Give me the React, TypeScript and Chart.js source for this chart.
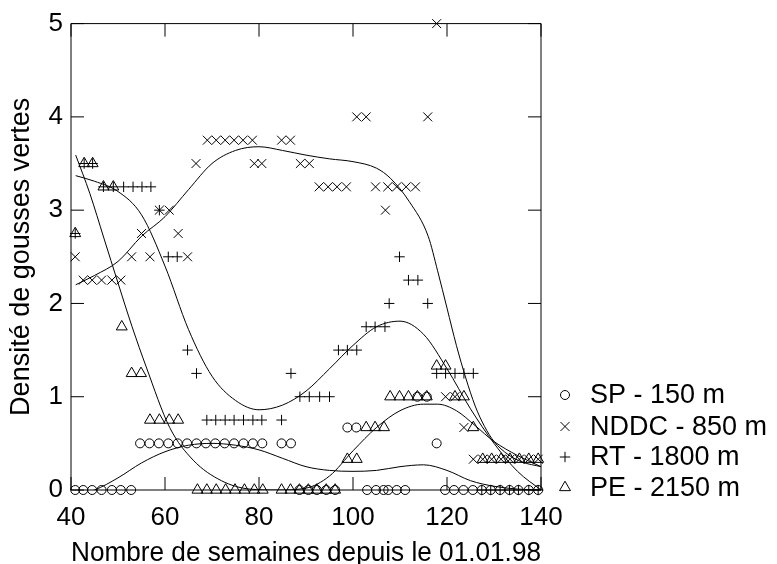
import React, { useEffect, useRef } from 'react';
import { Chart, registerables } from 'chart.js';

Chart.register(...registerables);

const FONT = "'Liberation Sans', Arial, Helvetica, sans-serif";

const xTickValues = [40, 60, 80, 100, 120, 140];
const yTickValues = [0, 1, 2, 3, 4, 5];
const xTitle = 'Nombre de semaines depuis le 01.01.98';
const yTitle = 'Densité de gousses vertes';

const seriesLabels = ['SP - 150 m', 'NDDC - 850 m', 'RT - 1800 m', 'PE - 2150 m'];

// SP - 150 m (circles)
const spWeeks = [40.9, 42.6, 44.5, 46.5, 48.7, 50.6, 52.8, 54.7, 56.7, 58.7, 60.7, 62.7, 64.7, 66.7, 68.7, 70.7, 72.7, 74.7, 76.7, 78.7, 80.7, 84.8, 86.8, 88.6, 90.5, 92.3, 94.3, 96.2, 98.8, 100.7, 103.0, 104.9, 106.5, 107.5, 109.3, 111.1, 113.7, 115.7, 117.8, 119.6, 121.5, 123.5, 125.5, 127.4, 129.3, 131.3, 133.3, 135.2, 137.4, 139.4];
const spValues = [0, 0, 0, 0, 0, 0, 0, 0.5, 0.5, 0.5, 0.5, 0.5, 0.5, 0.5, 0.5, 0.5, 0.5, 0.5, 0.5, 0.5, 0.5, 0.5, 0.5, 0, 0, 0, 0, 0, 0.67, 0.67, 0, 0, 0, 0, 0, 0, 1, 1, 0.5, 0, 0, 0, 0, 0, 0, 0, 0, 0, 0, 0];

// NDDC - 850 m (x)
const nddcWeeks = [40.9, 42.6, 44.5, 46.5, 48.7, 50.6, 52.9, 55.0, 56.8, 58.8, 60.9, 62.8, 64.8, 66.6, 69.0, 70.9, 72.8, 74.7, 76.6, 78.6, 79.0, 80.6, 84.8, 86.7, 88.8, 90.7, 92.8, 94.7, 96.6, 98.6, 100.8, 102.8, 104.8, 106.9, 107.4, 109.3, 111.3, 113.3, 115.9, 117.8, 119.7, 121.7, 123.6, 125.6, 127.6, 129.5, 131.5, 133.4, 135.4, 137.4, 139.4];
const nddcValues = [2.5, 2.25, 2.25, 2.25, 2.25, 2.25, 2.5, 2.75, 2.5, 3, 3, 2.75, 2.5, 3.5, 3.75, 3.75, 3.75, 3.75, 3.75, 3.75, 3.5, 3.5, 3.75, 3.75, 3.5, 3.5, 3.25, 3.25, 3.25, 3.25, 4, 4, 3.25, 3, 3.25, 3.25, 3.25, 3.25, 4, 5, 1, 1, 0.67, 0.33, 0.33, 0.33, 0.33, 0.33, 0.33, 0.33, 0.33];

// RT - 1800 m (+)
const rtWeeks = [40.9, 42.8, 44.6, 46.9, 49.0, 51.2, 53.2, 55.1, 57.0, 58.8, 60.7, 62.6, 64.8, 66.7, 68.9, 70.8, 72.8, 74.7, 76.7, 78.7, 80.6, 84.8, 86.8, 88.7, 90.7, 92.9, 95.0, 96.9, 98.8, 100.8, 102.8, 104.7, 106.8, 107.7, 109.9, 111.8, 113.8, 115.9, 117.8, 119.7, 121.7, 123.6, 125.6, 127.4, 129.3, 131.3, 133.3, 135.2, 137.4, 139.4];
const rtValues = [2.75, 3.5, 3.5, 3.25, 3.25, 3.25, 3.25, 3.25, 3.25, 3, 2.5, 2.5, 1.5, 1.25, 0.75, 0.75, 0.75, 0.75, 0.75, 0.75, 0.75, 0.75, 1.25, 1, 1, 1, 1, 1.5, 1.5, 1.5, 1.75, 1.75, 1.75, 2, 2.5, 2.25, 2.25, 2, 1.25, 1.25, 1.25, 1.25, 1.25, 0, 0, 0, 0, 0, 0, 0];

// PE - 2150 m (triangles)
const peWeeks = [40.9, 42.8, 44.6, 46.9, 49.0, 50.8, 52.9, 54.9, 56.8, 58.8, 60.9, 62.8, 66.9, 68.9, 70.9, 72.9, 74.9, 76.9, 79.0, 80.8, 84.8, 86.7, 88.6, 90.5, 92.3, 94.3, 96.2, 98.8, 100.8, 102.8, 104.7, 106.6, 107.9, 109.9, 111.8, 113.7, 115.7, 117.8, 119.7, 121.7, 123.6, 125.6, 127.6, 129.5, 131.5, 133.4, 135.4, 137.4, 139.4];
const peValues = [2.75, 3.5, 3.5, 3.25, 3.25, 1.75, 1.25, 1.25, 0.75, 0.75, 0.75, 0.75, 0, 0, 0, 0, 0, 0, 0, 0, 0, 0, 0, 0, 0, 0, 0, 0.33, 0.33, 0.67, 0.67, 0.67, 1, 1, 1, 1, 1, 1.33, 1.33, 1, 1, 0.67, 0.33, 0.33, 0.33, 0.33, 0.33, 0.33, 0.33];

// Smoothed fits
const spFitWeeks = [41, 45, 50, 55, 60, 65, 70, 75, 80, 85, 90, 95, 100, 105, 110, 115, 120, 125, 130, 135, 140];
const spFitValues = [-0.05, 0.0, 0.13, 0.29, 0.41, 0.48, 0.5, 0.48, 0.43, 0.34, 0.25, 0.21, 0.2, 0.21, 0.25, 0.27, 0.21, 0.1, 0.04, 0.01, 0.0];

const nddcFitWeeks = [41, 45, 50, 55, 60, 65, 70, 75, 80, 85, 90, 95, 100, 105, 108, 112, 116, 118, 120, 122, 124, 126, 128, 130, 133, 136, 140];
const nddcFitValues = [2.2, 2.3, 2.45, 2.72, 2.93, 3.22, 3.5, 3.64, 3.68, 3.64, 3.59, 3.55, 3.52, 3.45, 3.34, 3.09, 2.72, 2.35, 1.95, 1.55, 1.2, 0.9, 0.68, 0.52, 0.38, 0.3, 0.25];

const rtFitWeeks = [41, 45, 50, 55, 60, 65, 70, 75, 80, 85, 90, 95, 100, 105, 110, 115, 120, 125, 130, 135, 140];
const rtFitValues = [3.37, 3.31, 3.2, 2.95, 2.4, 1.72, 1.22, 0.96, 0.86, 0.91, 1.06, 1.3, 1.55, 1.75, 1.81, 1.67, 1.3, 0.87, 0.5, 0.2, 0.0];

const peFitWeeks = [41, 44, 47, 50, 53, 56, 61, 66, 72, 78, 84, 90, 95, 100, 105, 110, 115, 118, 122, 126, 130, 135, 140];
const peFitValues = [3.59, 3.18, 2.7, 2.22, 1.75, 1.32, 0.67, 0.32, 0.1, 0.01, 0.0, 0.02, 0.15, 0.42, 0.67, 0.85, 0.92, 0.92, 0.85, 0.69, 0.52, 0.37, 0.25];

const pointStyles = ['circle', 'crossRot', 'cross', 'triangle'];
const pointSizes = [4.5, 6.3, 5.2, 6.3];

const zip = (xs: number[], ys: number[]) => xs.map((x, i) => ({ x, y: ys[i] }));

function drawMarker(ctx: CanvasRenderingContext2D, style: string, r: number, x: number, y: number) {
  ctx.beginPath();
  if (style === 'circle') {
    ctx.arc(x, y, r, 0, Math.PI * 2);
  } else if (style === 'crossRot') {
    const o = r * Math.SQRT1_2;
    ctx.moveTo(x - o, y - o); ctx.lineTo(x + o, y + o);
    ctx.moveTo(x - o, y + o); ctx.lineTo(x + o, y - o);
  } else if (style === 'cross') {
    ctx.moveTo(x - r, y); ctx.lineTo(x + r, y);
    ctx.moveTo(x, y - r); ctx.lineTo(x, y + r);
  } else if (style === 'triangle') {
    let a = 0;
    ctx.moveTo(x + Math.sin(a) * r, y - Math.cos(a) * r);
    a += (2 * Math.PI) / 3;
    ctx.lineTo(x + Math.sin(a) * r, y - Math.cos(a) * r);
    a += (2 * Math.PI) / 3;
    ctx.lineTo(x + Math.sin(a) * r, y - Math.cos(a) * r);
    ctx.closePath();
  }
  ctx.stroke();
}

const framePlugin = {
  id: 'frameTicks',
  beforeDatasetsDraw(chart: any) {
    const { ctx, chartArea, scales } = chart;
    const { left, right, top, bottom } = chartArea;
    const len = 13;
    ctx.save();
    ctx.strokeStyle = '#000';
    ctx.lineWidth = 1;
    ctx.beginPath();
    ctx.rect(left, top, right - left, bottom - top);
    ctx.stroke();
    ctx.beginPath();
    xTickValues.forEach((v) => {
      const px = scales.x.getPixelForValue(v);
      ctx.moveTo(px, bottom); ctx.lineTo(px, bottom - len);
      ctx.moveTo(px, top); ctx.lineTo(px, top + len);
    });
    yTickValues.forEach((v) => {
      const py = scales.y.getPixelForValue(v);
      ctx.moveTo(left, py); ctx.lineTo(left + len, py);
      ctx.moveTo(right, py); ctx.lineTo(right - len, py);
    });
    ctx.stroke();
    ctx.restore();
  },
};

const legendPlugin = {
  id: 'customLegend',
  afterDraw(chart: any) {
    const { ctx } = chart;
    ctx.save();
    ctx.strokeStyle = '#000';
    ctx.fillStyle = '#000';
    ctx.lineWidth = 1;
    ctx.font = `27px ${FONT}`;
    ctx.textAlign = 'left';
    ctx.textBaseline = 'middle';
    const rows = [395, 426.5, 457, 487.5];
    seriesLabels.forEach((label, i) => {
      drawMarker(ctx, pointStyles[i], pointSizes[i], 565, rows[i]);
      ctx.fillText(label, 590, rows[i] + 1);
    });
    ctx.restore();
  },
};

export default function App() {
  const canvasRef = useRef<HTMLCanvasElement>(null);

  useEffect(() => {
    const canvas = canvasRef.current;
    if (!canvas) return;

    const scatterSets = [
      [spWeeks, spValues],
      [nddcWeeks, nddcValues],
      [rtWeeks, rtValues],
      [peWeeks, peValues],
    ].map(([xs, ys], i) => ({
      type: 'scatter' as const,
      label: seriesLabels[i],
      data: zip(xs, ys),
      pointStyle: pointStyles[i],
      pointRadius: pointSizes[i],
      pointBorderWidth: 1,
      borderColor: '#000',
      backgroundColor: 'rgba(0,0,0,0)',
      pointBackgroundColor: 'rgba(0,0,0,0)',
      clip: false as any,
    }));

    const fitSets = [
      [spFitWeeks, spFitValues],
      [nddcFitWeeks, nddcFitValues],
      [rtFitWeeks, rtFitValues],
      [peFitWeeks, peFitValues],
    ].map(([xs, ys], i) => ({
      type: 'line' as const,
      label: seriesLabels[i] + ' fit',
      data: zip(xs, ys),
      borderColor: '#000',
      borderWidth: 1,
      pointRadius: 0,
      fill: false,
      cubicInterpolationMode: 'monotone' as const,
    }));

    const chart = new Chart(canvas, {
      type: 'scatter',
      data: { datasets: [...fitSets, ...scatterSets] as any },
      options: {
        animation: false,
        responsive: false,
        devicePixelRatio: 1,
        layout: { padding: { top: 21, right: 236, left: 0, bottom: 0 } },
        plugins: { legend: { display: false }, tooltip: { enabled: false } },
        scales: {
          x: {
            type: 'linear',
            min: 40,
            max: 140,
            afterFit: (s: any) => { s.height = 74; },
            afterBuildTicks: (s: any) => { s.ticks = xTickValues.map((value) => ({ value })); },
            grid: { display: false, drawTicks: false },
            border: { display: false },
            ticks: { font: { family: FONT, size: 26 }, color: '#000', padding: 12, maxRotation: 0, autoSkip: false },
            title: { display: true, text: xTitle, color: '#000', font: { family: FONT, size: 27 }, padding: { top: 0, bottom: -6 } },
          },
          y: {
            type: 'linear',
            min: 0,
            max: 5,
            afterFit: (s: any) => { s.width = 71; },
            afterBuildTicks: (s: any) => { s.ticks = yTickValues.map((value) => ({ value })); },
            grid: { display: false, drawTicks: false },
            border: { display: false },
            ticks: { font: { family: FONT, size: 26 }, color: '#000', padding: 8 },
            title: { display: true, text: yTitle, color: '#000', font: { family: FONT, size: 27 }, padding: { top: 5, bottom: 0 } },
          },
        },
      },
      plugins: [framePlugin, legendPlugin],
    });

    return () => chart.destroy();
  }, []);

  return (
    <div style={{ position: 'absolute', left: 0, top: 0, width: 777, height: 564, background: '#fff' }}>
      <canvas ref={canvasRef} width={777} height={564} style={{ display: 'block' }} />
    </div>
  );
}
